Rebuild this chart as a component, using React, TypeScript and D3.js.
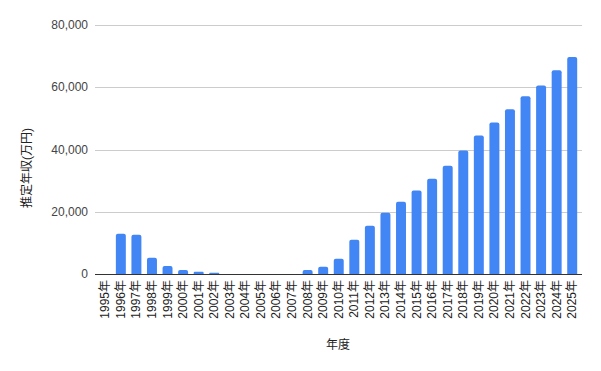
import { useEffect, useRef } from 'react';
import * as d3 from 'd3';

// 年度ごとの推定年収（万円）
const years = [
  '1995年', '1996年', '1997年', '1998年', '1999年', '2000年', '2001年', '2002年',
  '2003年', '2004年', '2005年', '2006年', '2007年', '2008年', '2009年', '2010年',
  '2011年', '2012年', '2013年', '2014年', '2015年', '2016年', '2017年', '2018年',
  '2019年', '2020年', '2021年', '2022年', '2023年', '2024年', '2025年',
];
const incomes = [
  0, 12900, 12600, 5200, 2600, 1300, 700, 400,
  0, 0, 0, 0, 0, 1300, 2300, 4900,
  11000, 15500, 19700, 23200, 26800, 30600, 34800, 39700,
  44500, 48700, 52900, 57100, 60600, 65500, 69700,
];
const yTicks = [0, 20000, 40000, 60000, 80000];

export default function App() {
  const svgRef = useRef<SVGSVGElement>(null);

  useEffect(() => {
    if (!svgRef.current) return;
    const svg = d3.select(svgRef.current);
    svg.selectAll('*').remove();

    const width = 601;
    const height = 371;
    const left = 95;
    const right = 582;
    const top = 25;
    const bottom = 274;
    const font = 'Arial, "Liberation Sans", "Noto Sans CJK JP", sans-serif';

    svg.attr('width', width).attr('height', height);

    const x = d3.scaleBand<string>()
      .domain(years)
      .range([97.5, 580])
      .paddingInner(0.36)
      .paddingOuter(0.18);

    const y = d3.scaleLinear()
      .domain([0, 80000])
      .range([bottom, top]);

    // Gridlines
    svg.append('g')
      .selectAll('line')
      .data(yTicks.filter(t => t > 0))
      .join('line')
      .attr('x1', left)
      .attr('x2', right)
      .attr('y1', d => Math.round(y(d)) + 0.5)
      .attr('y2', d => Math.round(y(d)) + 0.5)
      .style('stroke', '#cccccc')
      .style('stroke-width', 1);

    // Y tick labels
    svg.append('g')
      .selectAll('text')
      .data(yTicks)
      .join('text')
      .attr('x', 88)
      .attr('y', d => y(d))
      .attr('text-anchor', 'end')
      .attr('dominant-baseline', 'central')
      .style('fill', '#444')
      .style('font-family', font)
      .style('font-size', '12px')
      .text(d => d3.format(',')(d));

    // Bars with rounded top corners
    const r = 2;
    svg.append('g')
      .selectAll('path')
      .data(incomes.map((v, i) => ({ year: years[i], v })).filter(d => d.v > 0))
      .join('path')
      .attr('d', d => {
        const x0 = x(d.year)!;
        const w = x.bandwidth();
        const y0 = y(d.v);
        const rr = Math.min(r, (bottom - y0) / 2);
        return `M${x0},${bottom}V${y0 + rr}Q${x0},${y0} ${x0 + rr},${y0}` +
          `H${x0 + w - rr}Q${x0 + w},${y0} ${x0 + w},${y0 + rr}V${bottom}Z`;
      })
      .style('fill', '#4285f4');

    // Baseline
    svg.append('line')
      .attr('x1', left)
      .attr('x2', right)
      .attr('y1', bottom + 0.5)
      .attr('y2', bottom + 0.5)
      .style('stroke', '#333333')
      .style('stroke-width', 1);

    // X tick labels (rotated)
    svg.append('g')
      .selectAll('text')
      .data(years)
      .join('text')
      .attr('transform', d => `translate(${x(d)! + x.bandwidth() / 2},280) rotate(-90)`)
      .attr('text-anchor', 'end')
      .attr('dominant-baseline', 'central')
      .style('fill', '#222')
      .style('font-family', font)
      .style('font-size', '12px')
      .text(d => d);

    // Axis titles
    svg.append('text')
      .attr('x', 338)
      .attr('y', 345)
      .attr('text-anchor', 'middle')
      .attr('dominant-baseline', 'central')
      .style('fill', '#222')
      .style('font-family', font)
      .style('font-size', '12px')
      .text('年度');

    svg.append('text')
      .attr('transform', 'translate(27,168) rotate(-90)')
      .attr('text-anchor', 'middle')
      .attr('dominant-baseline', 'central')
      .style('fill', '#222')
      .style('font-family', font)
      .style('font-size', '12px')
      .text('推定年収(万円)');
  }, []);

  return (
    <div style={{ position: 'absolute', left: 0, top: 0 }}>
      <svg ref={svgRef} style={{ display: 'block' }} />
    </div>
  );
}
